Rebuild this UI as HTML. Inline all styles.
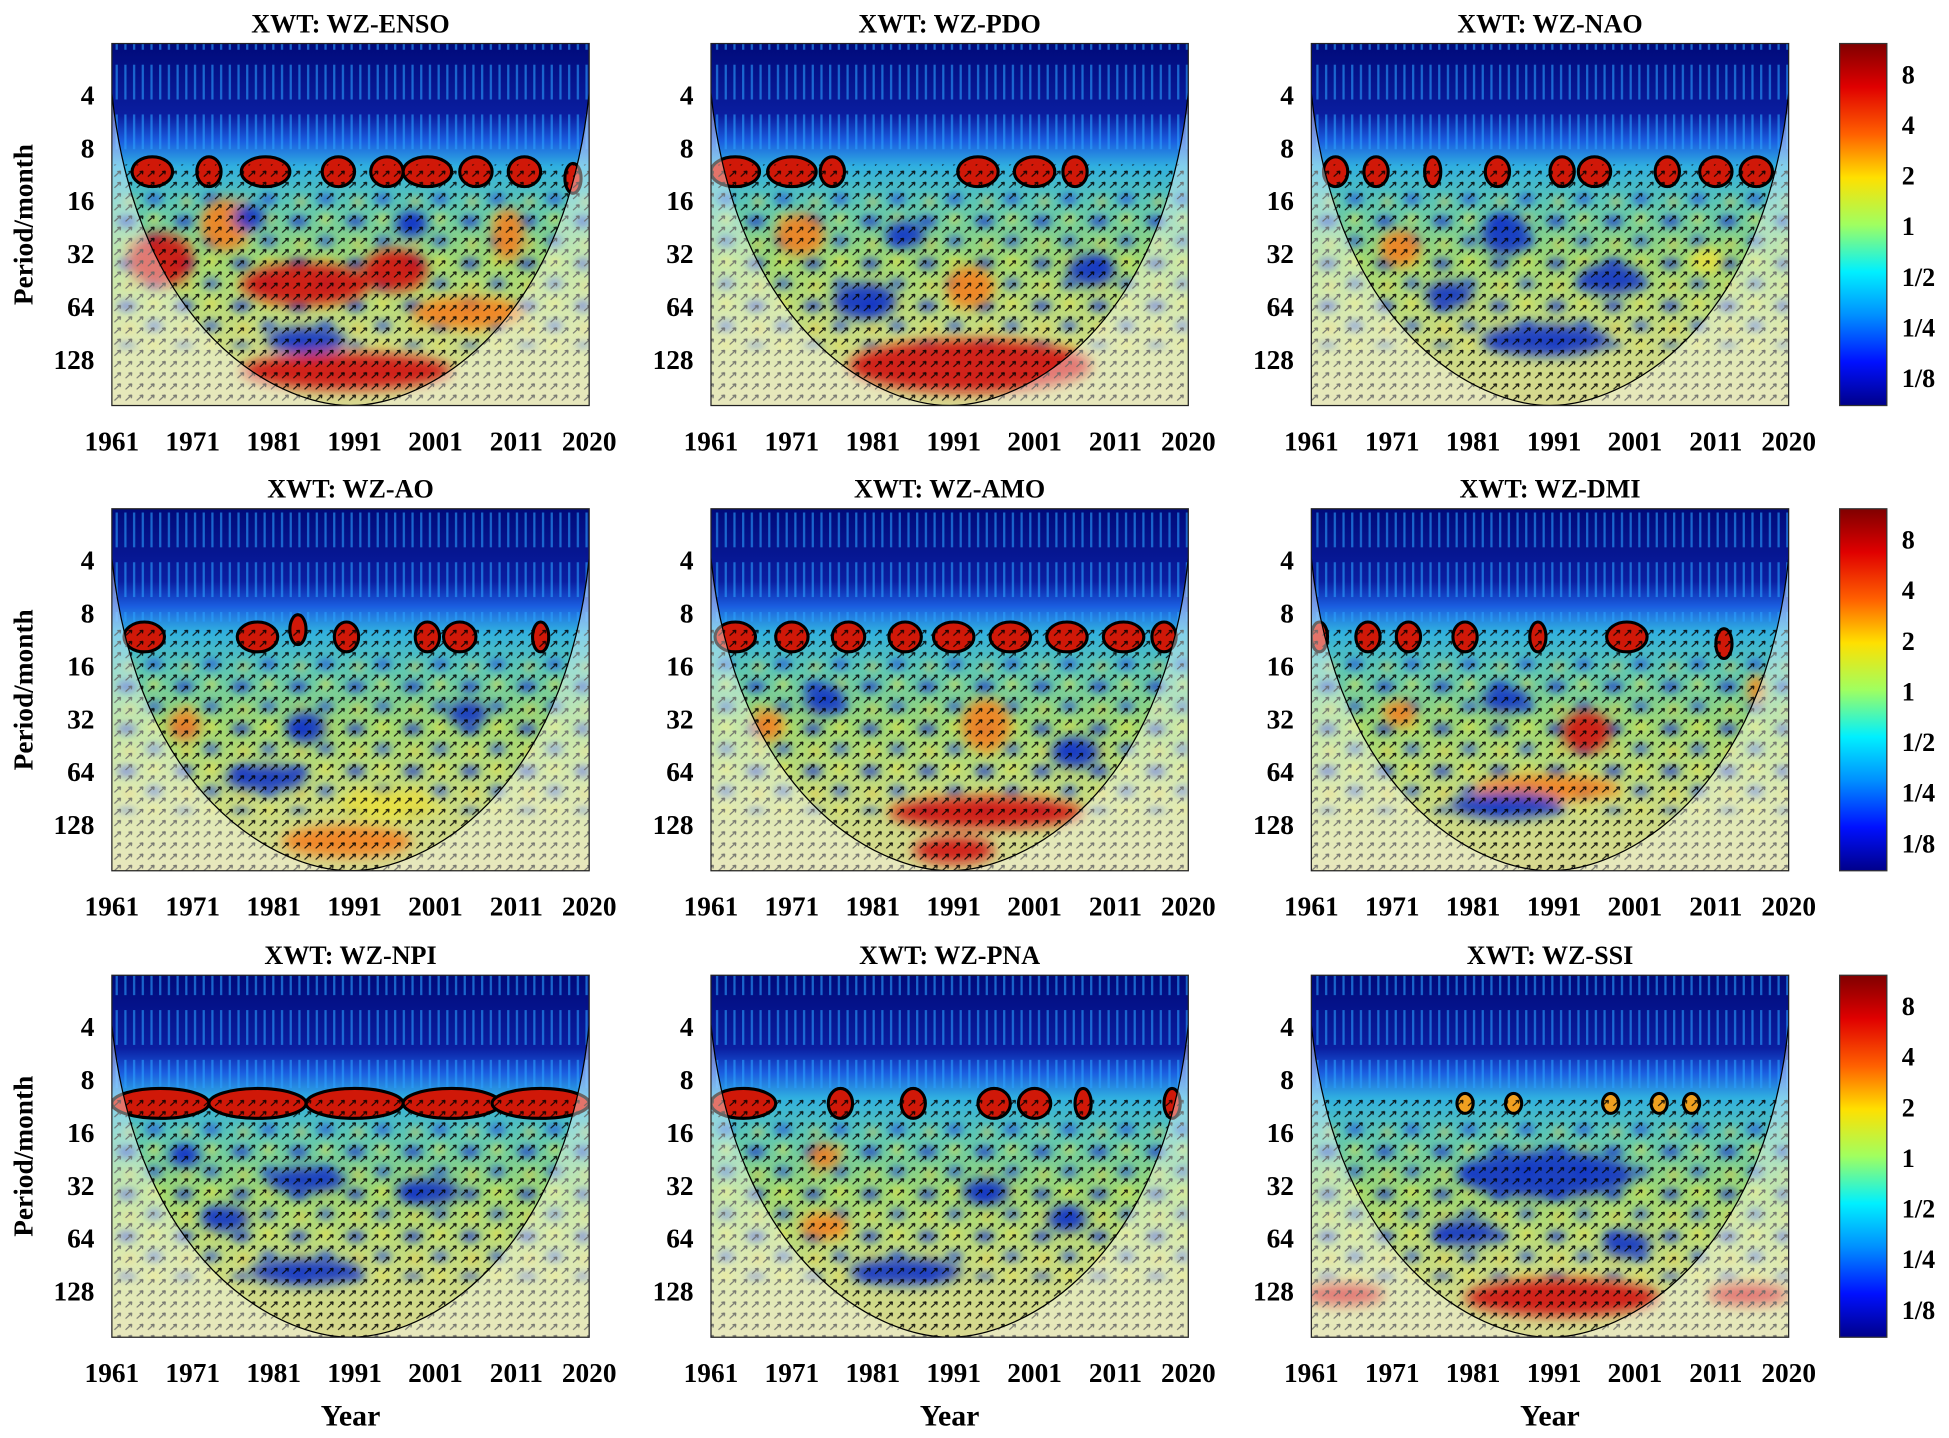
<!DOCTYPE html>
<html><head><meta charset="utf-8"><style>
html,body{margin:0;padding:0;background:#fff;}
svg{display:block;font-family:"Liberation Serif",serif;font-weight:bold;}
</style></head><body>
<svg id="fig" width="1949" height="1438" viewBox="0 0 1568 1156" preserveAspectRatio="none" xmlns="http://www.w3.org/2000/svg">
<defs>
<linearGradient id="bg" x1="0" y1="0" x2="0" y2="1">
<stop offset="0" stop-color="#000a7a"/><stop offset="0.2" stop-color="#0a1ea0"/>
<stop offset="0.27" stop-color="#1a5ee0"/><stop offset="0.34" stop-color="#30b0e0"/>
<stop offset="0.45" stop-color="#60c8b0"/><stop offset="0.6" stop-color="#a0d870"/>
<stop offset="0.8" stop-color="#c8dc80"/><stop offset="1" stop-color="#d8d890"/>
</linearGradient>
<linearGradient id="jet" x1="0" y1="0" x2="0" y2="1">
<stop offset="0" stop-color="#800000"/><stop offset="0.12" stop-color="#e00000"/><stop offset="0.25" stop-color="#ff6000"/>
<stop offset="0.37" stop-color="#ffe000"/><stop offset="0.5" stop-color="#a0ff60"/><stop offset="0.63" stop-color="#00f0ff"/>
<stop offset="0.75" stop-color="#0090ff"/><stop offset="0.88" stop-color="#0010ff"/><stop offset="1" stop-color="#00008a"/>
</linearGradient>
<filter id="blur" x="-50%" y="-50%" width="200%" height="200%"><feGaussianBlur stdDeviation="5"/></filter>
<filter id="blur3" x="-50%" y="-50%" width="200%" height="200%"><feGaussianBlur stdDeviation="3"/></filter>
<pattern id="arrows" width="9" height="9" patternUnits="userSpaceOnUse">
<path d="M2,7 L7,2.5 M7,2.5 L4.3,3 M7,2.5 L6.6,5.2" stroke="#000" stroke-width="1" fill="none" opacity="0.85"/>
</pattern>
<pattern id="streaks" width="7" height="40" patternUnits="userSpaceOnUse">
<rect x="2" y="12" width="1.8" height="28" fill="#2aa0ff" opacity="0.6"/>
</pattern>
<pattern id="mottle" width="46" height="34" patternUnits="userSpaceOnUse">
<ellipse cx="10" cy="8" rx="8" ry="5" fill="#1030d0" opacity="0.65"/>
<ellipse cx="32" cy="24" rx="7" ry="5" fill="#1840e0" opacity="0.55"/>
<ellipse cx="32" cy="6" rx="5" ry="4" fill="#f0e040" opacity="0.55"/>
<ellipse cx="12" cy="26" rx="5" ry="4" fill="#f0c030" opacity="0.45"/>
</pattern>
</defs>
</svg>
<script>
const titles = ["XWT: WZ-ENSO","XWT: WZ-PDO","XWT: WZ-NAO","XWT: WZ-AO","XWT: WZ-AMO","XWT: WZ-DMI","XWT: WZ-NPI","XWT: WZ-PNA","XWT: WZ-SSI"];
const yearTicks = [1961,1971,1981,1991,2001,2011,2020];
const periodTicks = [4,8,16,32,64,128];
const cbLabels = ["8","4","2","1","1/2","1/4","1/8"];
const cbValues = [8,4,2,1,0.5,0.25,0.125];
const sigENSO = [[1966,11,5],[1973,11,3],[1980,11,6],[1989,11,4],[1995,11,4],[2000,11,6],[2006,11,4],[2012,11,4],[2018,12,2]];
const sigPDO = [[1964,11,6],[1971,11,6],[1976,11,3],[1994,11,5],[2001,11,5],[2006,11,3]];
const sigNAO = [[1964,11,3],[1969,11,3],[1976,11,2],[1984,11,3],[1992,11,3],[1996,11,4],[2005,11,3],[2011,11,4],[2016,11,4]];
const sigAO = [[1965,11,5],[1979,11,5],[1984,10,2],[1990,11,3],[2000,11,3],[2004,11,4],[2014,11,2]];
const sigAMO = [[1964,11,5],[1971,11,4],[1978,11,4],[1985,11,4],[1991,11,5],[1998,11,5],[2005,11,5],[2012,11,5],[2017,11,3]];
const sigDMI = [[1962,11,2],[1968,11,3],[1973,11,3],[1980,11,3],[1989,11,2],[2000,11,5],[2012,12,2]];
const sigNPI = [[1967,11,12],[1979,11,12],[1991,11,12],[2003,11,12],[2014,11,12]];
const sigPNA = [[1965,11,8],[1977,11,3],[1986,11,3],[1996,11,4],[2001,11,4],[2007,11,2],[2018,11,2]];
const sigSSI = [[1980,11,2],[1986,11,2],[1998,11,2],[2004,11,2],[2008,11,2]];
const fieldENSO = [[1967,35,8,1.0,'r'],[1985,48,16,0.8,'r'],[1996,40,8,0.8,'r'],[2005,70,14,0.6,'o'],[1990,150,26,0.7,'r'],[1975,22,6,1,'o'],[2010,25,4,1,'o'],[1985,100,10,0.5,'b'],[1978,20,4,0.5,'b'],[1998,22,4,0.5,'b']];
const fieldPDO = [[1993,140,30,1.0,'r'],[1993,50,6,0.8,'o'],[1972,25,6,0.8,'o'],[1980,60,8,0.7,'b'],[2008,40,6,0.6,'b'],[1985,25,5,0.5,'b']];
const fieldNAO = [[1985,25,6,0.8,'b'],[1990,100,16,0.6,'b'],[1972,30,5,0.7,'o'],[1998,45,8,0.6,'b'],[2010,35,4,0.5,'y'],[1978,55,6,0.5,'b']];
const fieldAO = [[1990,160,16,0.6,'o'],[1985,36,5,0.6,'b'],[1995,100,12,0.6,'y'],[1980,70,10,0.5,'b'],[1970,35,4,0.6,'o'],[2005,30,5,0.5,'b']];
const fieldAMO = [[1995,35,6,1,'o'],[1995,110,24,0.6,'r'],[1991,180,10,0.5,'r'],[1975,25,5,0.6,'b'],[2006,50,6,0.6,'b'],[1968,35,4,0.6,'o']];
const fieldDMI = [[1995,38,6,0.8,'r'],[1990,80,18,0.5,'o'],[1985,100,14,0.5,'b'],[1985,25,6,0.5,'b'],[2016,22,2,0.6,'o'],[1972,30,4,0.5,'o']];
const fieldNPI = [[1985,30,10,0.5,'b'],[1975,50,6,0.5,'b'],[1985,100,14,0.5,'b'],[2000,35,8,0.5,'b'],[1970,22,4,0.4,'b']];
const fieldPNA = [[1985,100,14,0.5,'b'],[1995,35,6,0.5,'b'],[1975,55,6,0.5,'o'],[1975,22,4,0.5,'o'],[2005,50,5,0.5,'b']];
const fieldSSI = [[1992,140,24,0.7,'r'],[1990,28,22,0.9,'b'],[1980,60,8,0.5,'b'],[1965,135,10,0.4,'r'],[2015,135,10,0.4,'r'],[2000,70,6,0.5,'b']];
const sigs = [sigENSO,sigPDO,sigNAO,sigAO,sigAMO,sigDMI,sigNPI,sigPNA,sigSSI];
const fields = [fieldENSO,fieldPDO,fieldNAO,fieldAO,fieldAMO,fieldDMI,fieldNPI,fieldPNA,fieldSSI];

const NS="http://www.w3.org/2000/svg";
const svg=document.getElementById('fig');
const colLeft=[90,572,1055], rowTop=[35,409,784], PW=384, PH=291;
const colours={r:'#d01010',o:'#f48020',y:'#e8e040',b:'#1030c8'};
function mk(tag,attrs,parent){const e=document.createElementNS(NS,tag);for(const k in attrs)e.setAttribute(k,attrs[k]);(parent||svg).appendChild(e);return e;}
function xScale(L,yr){return L+(yr-1961)/(2020-1961)*PW;}
function yScale(T,p){return T+41+(Math.log2(p)-2)*42.5;}

for(let i=0;i<9;i++){
  const L=colLeft[i%3], T=rowTop[Math.floor(i/3)];
  const g=mk('g',{});
  
  
  const cp=mk('clipPath',{id:'c'+i},g); mk('rect',{x:L,y:T,width:PW,height:PH},cp);
  const inner=mk('g',{'clip-path':'url(#c'+i+')'},g);
  mk('rect',{x:L,y:T,width:PW,height:PH,fill:'url(#bg)'},inner);
  mk('rect',{x:L,y:T,width:PW,height:yScale(T,9)-T,fill:'url(#streaks)'},inner);
  const mg=mk('g',{filter:'url(#blur3)'},inner);
  mk('rect',{x:L,y:yScale(T,14),width:PW,height:yScale(T,110)-yScale(T,14),fill:'url(#mottle)'},mg);
  const fg=mk('g',{filter:'url(#blur)'},inner);
  for(const f of fields[i]){
    const cx=xScale(L,f[0]), cy=yScale(T,f[1]);
    const e=mk('ellipse',{cx:cx,cy:cy,rx:f[2]/2*PW/59,ry:f[3]*42.5/2,fill:colours[f[4]],opacity:0.9},fg);
    
    
  }
  for(const s of sigs[i]){
    const col = i===8?'#f0a020':'#d01808';
    const e=mk('ellipse',{cx:xScale(L,s[0]),cy:yScale(T,s[1]),rx:s[2]/2*PW/59,ry:i===8?8:12,fill:col,stroke:'#000','stroke-width':2.5},inner);
    
    
  }
  mk('rect',{x:L,y:yScale(T,10),width:PW,height:PH,fill:'url(#arrows)'},inner);
  const mid=L+PW/2, B=T+PH;
  const outside=`M${L},${T} L${L},${B} L${L+PW},${B} L${L+PW},${T} L${L+PW},${T+40} C${L+PW-20},${T+230} ${mid+60},${B} ${mid},${B} C${mid-60},${B} ${L+20},${T+230} ${L},${T+40} Z`;
  const ov=mk('path',{d:outside,fill:'#fff',opacity:0.4,'fill-rule':'evenodd'},inner);
  
  
  mk('path',{d:`M${L},${T+40} C${L+20},${T+230} ${mid-60},${B} ${mid},${B} C${mid+60},${B} ${L+PW-20},${T+230} ${L+PW},${T+40}`,fill:'none',stroke:'#000','stroke-width':1},inner);
  mk('rect',{x:L,y:T,width:PW,height:PH,fill:'none',stroke:'#222','stroke-width':1},g);
  const t=mk('text',{x:L+PW/2,y:T-9,'text-anchor':'middle','font-size':21},g); t.textContent=titles[i];
  
  
  for(const yr of yearTicks){const tx=mk('text',{x:xScale(L,yr),y:B+36,'text-anchor':'middle','font-size':22},g);tx.textContent=yr;
    
    }
  for(const p of periodTicks){const ty=mk('text',{x:L-14,y:yScale(T,p)+8,'text-anchor':'end','font-size':22},g);ty.textContent=p;
    
    }
}
for(let r=0;r<3;r++){
  const T=rowTop[r];
  const yl=mk('text',{x:0,y:0,'text-anchor':'middle','font-size':22,transform:`translate(26,${T+PH/2}) rotate(-90)`});
  yl.textContent='Period/month';
  
  
  const cb=mk('rect',{x:1480,y:T,width:38,height:PH,fill:'url(#jet)',stroke:'#333','stroke-width':1});
  
  
  for(let k=0;k<cbLabels.length;k++){
    const y=T+25+(3-Math.log2(cbValues[k]))*40.7;
    const c=mk('text',{x:1530,y:y+7,'font-size':21});
    c.textContent=cbLabels[k];
    
    
  }
}
for(let c=0;c<3;c++){
  const xl=mk('text',{x:colLeft[c]+PW/2,y:1146,'text-anchor':'middle','font-size':24});
  xl.textContent='Year';
  
  
}
</script>
</body></html>
